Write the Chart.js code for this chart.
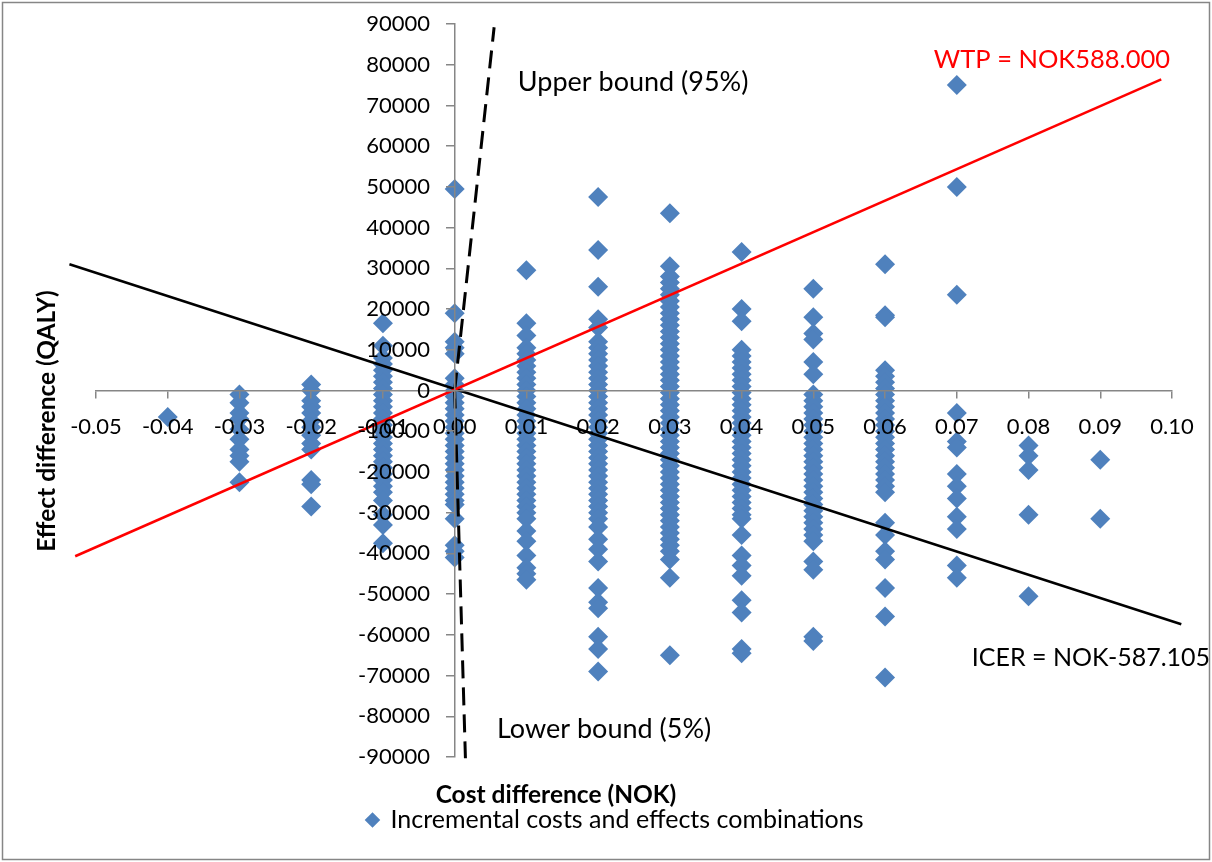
<!DOCTYPE html>
<html>
<head>
<meta charset="utf-8">
<script src="https://cdn.jsdelivr.net/npm/chart.js@4.4.1/dist/chart.umd.min.js"></script>
<style>
  html, body { margin: 0; padding: 0; background: #fff; }
</style>
</head>
<body>
<canvas id="chart" width="1212" height="862"></canvas>
<script>
// cost difference of each column of points
const costLevels = [-0.04, -0.03, -0.02, -0.01, 0.00, 0.01, 0.02, 0.03, 0.04, 0.05, 0.06, 0.07, 0.08, 0.09];

// effect difference values read per column
const colM04 = [-6500];
const colM03 = [-1000, -3000, -5500, -7000, -9500, -12000, -14500, -16000, -17500, -22500];
const colM02 = [1500, 0, -2500, -4000, -5500, -7500, -9000, -11000, -13000, -14500, -22000, -23000, -28500];
const colM01 = [16500, 11000, 8000, 6500, 5000, 3500, 2000, 500, -1000, -2500, -4000, -5500, -7000, -8500,
  -10000, -11500, -13000, -14500, -16000, -17500, -19000, -20500, -22000, -23500, -25000, -27000, -30500, -33000, -37500];
const col000 = [49500, 19000, 12000, 10500, 9000, 3000, 1500, 0, -1500, -3000, -4500, -6000, -7500, -9000,
  -10500, -12000, -13500, -15000, -16500, -18000, -19500, -21000, -22500, -24000, -25500, -27000, -28000,
  -31500, -38000, -39500, -41000];
const col001 = [29500, 16500, 13500, 10500, 9000, 7500, 6000, 4500, 3000, 1500, 0, -1500, -3000, -4500, -6000,
  -7500, -9000, -10500, -12000, -13500, -15000, -16500, -18000, -19500, -21000, -22500, -24000, -25500, -27000,
  -28500, -30000, -31500, -34500, -37000, -40500, -43500, -45000, -46500];
const col002 = [47500, 34500, 25500, 17500, 15500, 12000, 10500, 9000, 7500, 6000, 4500, 3000, 1500, 0, -1500,
  -3000, -4500, -6000, -7500, -9000, -10500, -12000, -13500, -15000, -16500, -18000, -19500, -21000, -22500,
  -24000, -25500, -27000, -28500, -30000, -31500, -33500, -36500, -39000, -42000, -48500, -52000, -53500,
  -60500, -63500, -69000, -78500];
const col003 = [43500, 30500, 28000, 26500, 25000, 23500, 22000, 20500, 19000, 17500, 16000, 14500, 13000, 11500,
  10000, 8500, 7000, 5500, 4000, 2500, 1000, -500, -2000, -3500, -5000, -6500, -8000, -9500, -11000, -12500,
  -14000, -15500, -17000, -18500, -20000, -21500, -23000, -24500, -26000, -27500, -29000, -30500, -32000,
  -33500, -35000, -36500, -38000, -39500, -41500, -46000, -65000];
const col004 = [34000, 20000, 17000, 10000, 8500, 7000, 5500, 4000, 2500, 1000, -500, -2000, -3500, -5000, -6500,
  -8000, -9500, -11000, -12500, -14000, -15500, -17000, -18500, -20000, -21500, -23000, -24500, -26000, -27500,
  -29000, -30500, -31500, -35500, -40500, -43000, -45500, -51500, -54500, -63500, -64500];
const col005 = [25000, 18000, 14000, 12500, 7000, 4000, -1000, -2500, -4000, -5500, -7000, -8500, -10000, -11500,
  -13000, -14500, -16000, -17500, -19000, -20500, -22000, -23500, -25000, -26500, -28000, -29500, -31000,
  -32500, -34000, -35500, -37000, -42000, -44000, -60500, -61500];
const col006 = [31000, 18500, 18000, 5000, 3500, 2000, 500, -1000, -2500, -4000, -5500, -7000, -8500, -10000,
  -11500, -13000, -14500, -16000, -17500, -19000, -20500, -22000, -23500, -25000, -32500, -35500, -39500,
  -41500, -48500, -55500, -70500];
const col007 = [75000, 50000, 23500, -5500, -12500, -14000, -20500, -23500, -26500, -31000, -34000, -43000, -46000];
const col008 = [-13500, -16000, -19500, -30500, -50500];
const col009 = [-17000, -31500];

const columns = [colM04, colM03, colM02, colM01, col000, col001, col002, col003, col004, col005, col006, col007, col008, col009];

// reference lines (cost, effect)
const wtpLine = [{x: -0.0529, y: -40700}, {x: 0.0985, y: 76400}];
const icerLine = [{x: -0.0537, y: 31000}, {x: 0.1013, y: -57400}];
const upperBound = [{x: 0, y: 0}, {x: 0.0055, y: 89200}];
const lowerBound = [{x: 0, y: 0}, {x: 0.0015, y: -90300}];

// axis ticks
const xMin = -0.05, xMax = 0.10, xStep = 0.01;
const yMin = -90000, yMax = 90000, yStep = 10000;

const points = [];
costLevels.forEach((c, i) => {
  columns[i].forEach(v => points.push({x: c, y: v}));
});

const FONT = 'Lato';
const AXIS_GREY = '#868686';

const notes = [
  {text: 'Upper bound (95%)', x: 0.0088, y: 75700, color: '#000', size: 27},
  {text: 'WTP = NOK588.000', x: 0.0668, y: 81100, color: '#ff0000', size: 25.5},
  {text: 'ICER = NOK-587.105', x: 0.0721, y: -65600, color: '#000', size: 25},
  {text: 'Lower bound (5%)', x: 0.0059, y: -83300, color: '#000', size: 27, box: true},
];

const annotations = {
  id: 'annotations',
  beforeDraw(chart) {
    const ctx = chart.ctx;
    ctx.save();
    ctx.fillStyle = '#fff';
    ctx.fillRect(0, 0, chart.width, chart.height);
    ctx.restore();
  },
  afterDraw(chart) {
    const ctx = chart.ctx;
    const sx = chart.scales.x, sy = chart.scales.y;
    ctx.save();
    ctx.textBaseline = 'middle';
    ctx.textAlign = 'left';
    notes.forEach(n => {
      ctx.font = n.size + 'px ' + FONT;
      const px = sx.getPixelForValue(n.x);
      const py = sy.getPixelForValue(n.y);
      if (n.box) {
        const w = ctx.measureText(n.text).width;
        ctx.fillStyle = '#fff';
        ctx.fillRect(px - 10, py - 30, w + 20, 60);
      }
      ctx.fillStyle = n.color;
      ctx.fillText(n.text, px, py);
    });

    // axis titles
    ctx.fillStyle = '#000';
    ctx.font = 'bold 24.5px ' + FONT;
    ctx.textAlign = 'center';
    ctx.fillText('Cost difference (NOK)', 556, 795);
    ctx.translate(47, 421);
    ctx.rotate(-Math.PI / 2);
    ctx.fillText('Effect difference (QALY)', 0, 0);
    ctx.restore();

    // outer frame
    ctx.save();
    ctx.strokeStyle = AXIS_GREY;
    ctx.lineWidth = 1.5;
    ctx.strokeRect(2.5, 2.5, chart.width - 5, chart.height - 5);
    ctx.restore();
  }
};

const lineStyle = {
  showLine: true,
  pointRadius: 0,
  pointHoverRadius: 0,
  fill: false,
  tension: 0,
  clip: false,
  yAxisID: 'y',
};

new Chart(document.getElementById('chart'), {
  type: 'scatter',
  data: {
    datasets: [
      {...lineStyle, label: 'WTP', data: wtpLine, borderColor: '#ff0000', borderWidth: 2.5},
      {...lineStyle, label: 'ICER', data: icerLine, borderColor: '#000', borderWidth: 2.5},
      {...lineStyle, label: 'Upper', data: upperBound, borderColor: '#000', borderWidth: 3, borderDash: [18, 9]},
      {...lineStyle, label: 'Lower', data: lowerBound, borderColor: '#000', borderWidth: 3, borderDash: [18, 9]},
      {
        label: 'Incremental costs and effects combinations',
        data: points,
        yAxisID: 'y',
        pointStyle: 'rectRot',
        pointRadius: 10,
        pointHoverRadius: 10,
        backgroundColor: '#4f81bd',
        borderColor: '#4f81bd',
        borderWidth: 0,
      },
    ],
  },
  options: {
    responsive: false,
    animation: false,
    layout: { padding: { top: 24, left: 58.5, right: 40, bottom: 19.5 } },
    plugins: {
      legend: {
        position: 'bottom',
        labels: {
          filter: item => item.datasetIndex === 4,
          usePointStyle: true,
          boxWidth: 11,
          boxHeight: 11,
          padding: 50.5,
          color: '#000',
          font: { family: FONT, size: 25 },
        },
      },
      tooltip: { enabled: false },
    },
    scales: {
      x: {
        type: 'linear',
        position: { y: 0 },
        min: xMin,
        max: xMax,
        ticks: {
          stepSize: xStep,
          autoSkip: false,
          padding: 16,
          color: '#000',
          z: 1,
          font: { family: FONT, size: 22 },
          callback: v => v.toFixed(2),
        },
        grid: { drawOnChartArea: false, tickLength: 7, color: AXIS_GREY, lineWidth: 1.5, z: 1 },
        border: { color: AXIS_GREY, width: 1.5, z: 1 },
      },
      y: {
        type: 'linear',
        axis: 'y',
        position: { x: 0 },
        min: yMin,
        max: yMax,
        ticks: { stepSize: yStep, display: false },
        grid: { drawOnChartArea: false, tickLength: 8, color: AXIS_GREY, lineWidth: 1.5, z: 1 },
        border: { color: AXIS_GREY, width: 1.5, z: 1 },
      },
      yLabels: {
        type: 'linear',
        axis: 'y',
        position: { x: -0.00344 },
        min: yMin,
        max: yMax,
        ticks: {
          stepSize: yStep,
          padding: 0,
          color: '#000',
          z: 1,
          font: { family: FONT, size: 22 },
          callback: v => String(v),
        },
        grid: { display: false, drawTicks: false },
        border: { display: false },
      },
      // empty strip on the left so the legend stays centred on the whole chart
      ySpacer: {
        type: 'linear',
        axis: 'y',
        position: 'left',
        ticks: { display: false },
        grid: { display: false, drawTicks: true, tickLength: 37.5 },
        border: { display: false },
      },
    },
  },
  plugins: [annotations],
});
</script>
</body>
</html>
